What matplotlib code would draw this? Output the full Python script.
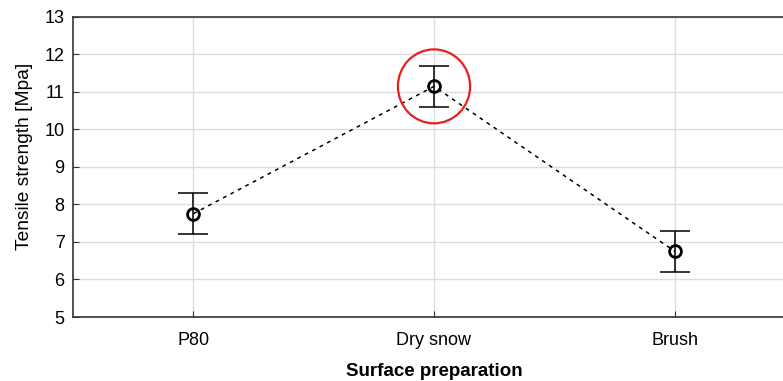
import matplotlib.pyplot as plt
from matplotlib.patches import Ellipse

plt.rcParams['font.family'] = ['Liberation Sans', 'DejaVu Sans']

# Mean tensile strength per surface preparation, with error half-widths
categories = ["P80", "Dry snow", "Brush"]
means = [7.75, 11.14, 6.75]
errors = [0.54, 0.54, 0.54]
y_ticks = [5, 6, 7, 8, 9, 10, 11, 12, 13]

fig = plt.figure(figsize=(7.83, 3.81), dpi=100)
# axes run slightly past the right edge of the figure
ax = fig.add_axes([73 / 783, 1 - 317 / 381, 722 / 783, 300.5 / 381])

x = list(range(len(categories)))
ax.errorbar(x, means, yerr=errors, fmt='none', ecolor='black',
            elinewidth=1.1, capsize=11, capthick=1.1, zorder=3)
ax.plot(x, means, linestyle=(0, (2.5, 3)), color='black', linewidth=1.1,
        marker='o', markersize=8.5, markerfacecolor='none',
        markeredgecolor='black', markeredgewidth=2, zorder=4)

# highlight the dry snow result
ax.add_patch(Ellipse((1, means[1]), width=72 / 240, height=74 / 37.6,
                     fill=False, edgecolor='#e8201c', linewidth=1.6, zorder=5))

ax.set_xlim(-0.5, 2.5)
ax.set_ylim(5, 13)
ax.set_xticks(x)
ax.set_xticklabels(categories)
ax.set_yticks(y_ticks)

ax.grid(True, color='#dcdcdc', linewidth=1)
ax.set_axisbelow(True)
for side in ['left', 'top', 'bottom']:
    ax.spines[side].set_color('#333333')
    ax.spines[side].set_linewidth(1.2)
ax.spines['right'].set_visible(False)
ax.tick_params(direction='in', length=4, color='#333333', labelsize=13)
ax.tick_params(axis='x', pad=11)
ax.tick_params(axis='y', pad=6)

ax.set_ylabel("Tensile strength [Mpa]", fontsize=13.8)
ax.yaxis.set_label_coords(-0.055, 0.536)
ax.set_xlabel("Surface preparation", fontsize=13.5, fontweight='bold',
              labelpad=10)

fig.savefig("out.png", dpi=100)
